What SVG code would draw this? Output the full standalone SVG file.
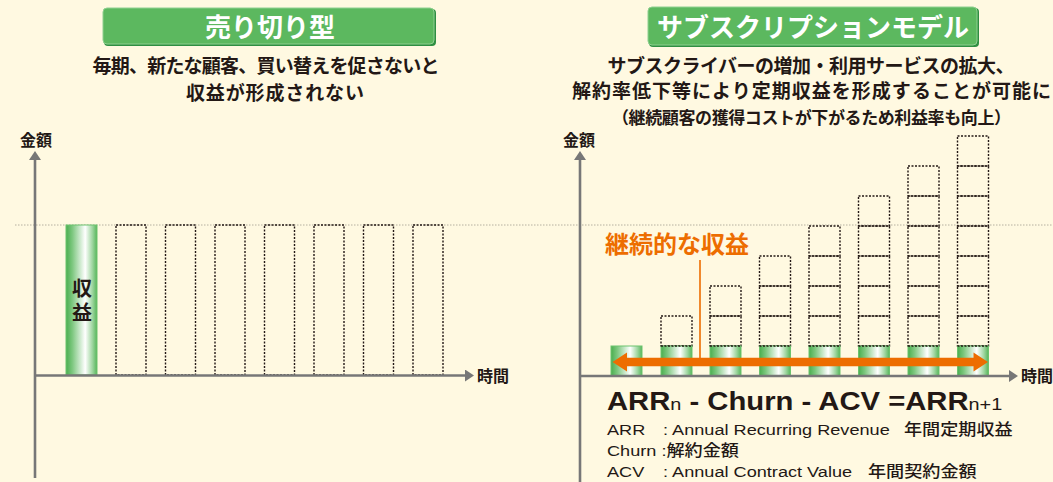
<svg xmlns="http://www.w3.org/2000/svg" width="1053" height="482" viewBox="0 0 1053 482">
<defs>
<linearGradient id="g" x1="0" y1="0" x2="1" y2="0">
<stop offset="0" stop-color="#4aae4f"/>
<stop offset="0.2" stop-color="#7cc77e"/>
<stop offset="0.62" stop-color="#ffffff"/>
<stop offset="0.85" stop-color="#9fd6a0"/>
<stop offset="1" stop-color="#57b65a"/>
</linearGradient>
<marker id="ah" markerUnits="userSpaceOnUse" markerWidth="9" markerHeight="12" refX="0" refY="6" orient="auto" viewBox="0 0 9 12">
<path d="M0,0 L9,6 L0,12 z" fill="#777777"/>
</marker>
<style>
.jp{font-family:"Noto Sans CJK JP","Noto Sans CJK SC",sans-serif;}
.ttl{font-size:26px;font-weight:700;fill:#ffffff;text-anchor:middle;}
.sub{font-size:19px;font-weight:700;fill:#231815;text-anchor:middle;}
.lab{font-size:16px;font-weight:700;fill:#231815;}
.tb{fill:#5cb85f;stroke:#8fd090;stroke-width:1;}
.tbs{fill:#2f8f42;}
.ax{stroke:#777777;stroke-width:2.6;fill:none;}
.ref{stroke:#b5b0a0;stroke-width:1;stroke-dasharray:1.5 1.5;fill:none;}
.dot{fill:none;stroke:#231815;stroke-width:1.4;stroke-dasharray:2 1.5;}
.grn{fill:url(#g);stroke:#6cc36e;stroke-width:1;}
.fm{font-family:"Liberation Sans",Arial,sans-serif;font-size:25px;font-weight:700;fill:#231815;}
.sm{font-size:17px;font-weight:400;}
.lg{font-family:"Liberation Sans",Arial,sans-serif;font-size:15.5px;fill:#231815;}
.lgj{font-family:"Noto Sans CJK JP","Noto Sans CJK SC",sans-serif;font-weight:500;}
.vt{font-size:20px;font-weight:700;fill:#231815;text-anchor:middle;writing-mode:vertical-rl;text-orientation:upright;letter-spacing:3.5px;}
</style>
</defs>
<rect x="0" y="0" width="1053" height="482" fill="#fff9e1"/>

<!-- reference dotted line -->
<line class="ref" x1="15" y1="225" x2="1053" y2="225"/>

<!-- Left title -->
<g id="title-left">
<rect class="tbs" x="104" y="9" width="332" height="37" rx="4"/>
<rect class="tb" x="103" y="8" width="331" height="36" rx="4"/>
<text class="jp ttl" x="270" y="37">売り切り型</text>
</g>
<g id="desc-left">
<text class="jp sub" x="266" y="73" textLength="347" lengthAdjust="spacing">毎期、新たな顧客、買い替えを促さないと</text>
<text class="jp sub" x="275" y="99.5" textLength="178" lengthAdjust="spacing">収益が形成されない</text>
</g>

<!-- Right title -->
<g id="title-right">
<rect class="tbs" x="649" y="8" width="330" height="39" rx="4"/>
<rect class="tb" x="648" y="7" width="329" height="38" rx="4"/>
<text class="jp ttl" x="813" y="36.5">サブスクリプションモデル</text>
</g>
<g id="desc-right">
<text class="jp sub" x="811" y="72.5" textLength="407" lengthAdjust="spacing">サブスクライバーの増加・利用サービスの拡大、</text>
<text class="jp sub" x="811.5" y="98" textLength="479" lengthAdjust="spacing">解約率低下等により定期収益を形成することが可能に</text>
<text class="jp sub" x="811.5" y="124" style="font-size:17px" textLength="399" lengthAdjust="spacing">（継続顧客の獲得コストが下がるため利益率も向上）</text>
</g>

<!-- Left chart -->
<g id="left-chart">
<g id="left-bars">
<rect class="grn" x="66" y="225" width="31" height="150"/>
<rect class="dot" x="116" y="225" width="30" height="150"/>
<rect class="dot" x="165.5" y="225" width="30" height="150"/>
<rect class="dot" x="215" y="225" width="30" height="150"/>
<rect class="dot" x="264.5" y="225" width="30" height="150"/>
<rect class="dot" x="314" y="225" width="30" height="150"/>
<rect class="dot" x="363.5" y="225" width="30" height="150"/>
<rect class="dot" x="413" y="225" width="30" height="150"/>
</g>
<text class="jp vt" x="82" y="302">収益</text>
<text class="jp lab" x="36" y="146" text-anchor="middle">金額</text>
<text class="jp lab" x="477" y="382">時間</text>
</g>

<!-- Right chart -->
<g id="right-chart">
<g id="right-dotted">
<rect class="dot" x="661" y="316" width="31" height="30"/>
<rect class="dot" x="710" y="316" width="31" height="30"/>
<rect class="dot" x="710" y="286" width="31" height="30"/>
<rect class="dot" x="759.5" y="316" width="31" height="30"/>
<rect class="dot" x="759.5" y="286" width="31" height="30"/>
<rect class="dot" x="759.5" y="256" width="31" height="30"/>
<rect class="dot" x="809" y="316" width="31" height="30"/>
<rect class="dot" x="809" y="286" width="31" height="30"/>
<rect class="dot" x="809" y="256" width="31" height="30"/>
<rect class="dot" x="809" y="226" width="31" height="30"/>
<rect class="dot" x="858.5" y="316" width="31" height="30"/>
<rect class="dot" x="858.5" y="286" width="31" height="30"/>
<rect class="dot" x="858.5" y="256" width="31" height="30"/>
<rect class="dot" x="858.5" y="226" width="31" height="30"/>
<rect class="dot" x="858.5" y="196" width="31" height="30"/>
<rect class="dot" x="908" y="316" width="31" height="30"/>
<rect class="dot" x="908" y="286" width="31" height="30"/>
<rect class="dot" x="908" y="256" width="31" height="30"/>
<rect class="dot" x="908" y="226" width="31" height="30"/>
<rect class="dot" x="908" y="196" width="31" height="30"/>
<rect class="dot" x="908" y="166" width="31" height="30"/>
<rect class="dot" x="957.5" y="316" width="31" height="30"/>
<rect class="dot" x="957.5" y="286" width="31" height="30"/>
<rect class="dot" x="957.5" y="256" width="31" height="30"/>
<rect class="dot" x="957.5" y="226" width="31" height="30"/>
<rect class="dot" x="957.5" y="196" width="31" height="30"/>
<rect class="dot" x="957.5" y="166" width="31" height="30"/>
<rect class="dot" x="957.5" y="136" width="31" height="30"/>
</g>
<g id="right-bars">
<rect class="grn" x="611" y="346" width="31" height="30"/>
<rect class="grn" x="661" y="346" width="31" height="30"/>
<rect class="grn" x="710" y="346" width="31" height="30"/>
<rect class="grn" x="759.5" y="346" width="31" height="30"/>
<rect class="grn" x="809" y="346" width="31" height="30"/>
<rect class="grn" x="858.5" y="346" width="31" height="30"/>
<rect class="grn" x="908" y="346" width="31" height="30"/>
<rect class="grn" x="957.5" y="346" width="31" height="30"/>
<path class="dot" d="M661,346 H692 M710,346 H741 M759.5,346 H790.5 M809,346 H840 M858.5,346 H889.5 M908,346 H939 M957.5,346 H988.5"/>
</g>
<text class="jp lab" x="579" y="146" text-anchor="middle">金額</text>
<text class="jp lab" x="1021" y="382">時間</text>
<text class="jp" x="605" y="253" style="font-size:24px;font-weight:700;fill:#ed6d00">継続的な収益</text>
</g>

<!-- connectors -->
<g id="connectors">
<line class="ax" x1="35" y1="478" x2="35" y2="160" marker-end="url(#ah)"/>
<line class="ax" x1="34" y1="375.5" x2="465" y2="375.5" marker-end="url(#ah)"/>
<line class="ax" x1="580" y1="482" x2="580" y2="160" marker-end="url(#ah)"/>
<line class="ax" x1="579" y1="376" x2="1009" y2="376" marker-end="url(#ah)"/>
<line x1="700" y1="260" x2="700" y2="362" stroke="#ed6d00" stroke-width="1.6"/>
<line x1="624" y1="362" x2="977" y2="362" stroke="#ed6d00" stroke-width="8.5"/>
<polygon points="612.5,362 627,352.5 627,371.5" fill="#ed6d00"/>
<polygon points="988,362 973.5,352.5 973.5,371.5" fill="#ed6d00"/>
</g>

<!-- formula -->
<g id="formula" transform="translate(607 0) scale(1.17 1)">
<text class="fm" x="0" y="410" xml:space="preserve">ARR<tspan class="sm">n</tspan> - Churn - ACV =ARR<tspan class="sm">n+1</tspan></text>
<text class="lg" x="0" y="435">ARR</text>
<text class="lg" x="47.9" y="435" xml:space="preserve">: Annual Recurring Revenue</text>
<text class="lg lgj" x="253.8" y="435">年間定期収益</text>
<text class="lg" x="0" y="456" xml:space="preserve">Churn :<tspan class="lgj">解約金額</tspan></text>
<text class="lg" x="0" y="477">ACV</text>
<text class="lg" x="47.9" y="477" xml:space="preserve">: Annual Contract Value</text>
<text class="lg lgj" x="223" y="477">年間契約金額</text>
</g>
</svg>
